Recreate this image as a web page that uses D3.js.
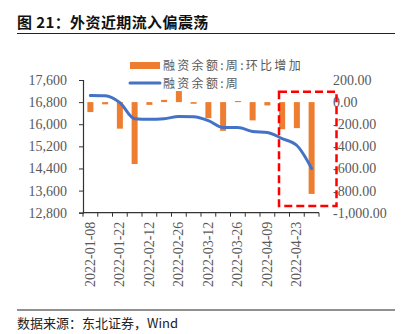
<!DOCTYPE html>
<html><head><meta charset="utf-8">
<script src="https://cdn.jsdelivr.net/npm/d3@7"></script>
<style>
html,body{margin:0;padding:0;background:#fff;}
svg{display:block;}
</style></head>
<body>
<svg id="c" width="408" height="334"></svg>
<script>
const dates = ["2022-01-08","2022-01-15","2022-01-22","2022-01-29","2022-02-12","2022-02-19","2022-02-26","2022-03-05","2022-03-12","2022-03-19","2022-03-26","2022-04-02","2022-04-09","2022-04-16","2022-04-23","2022-04-30"];
const changeWeekly = [-90,-20,-240,-560,-25,20,100,-15,-145,-260,10,-165,-30,-245,-235,-830];
const balanceWeekly = [17040,17030,16780,16200,16180,16200,16280,16270,16130,15880,15880,15740,15700,15480,15230,14400];
const shownLabels = ["2022-01-08","2022-01-22","2022-02-12","2022-02-26","2022-03-12","2022-03-26","2022-04-09","2022-04-23"];
const leftTicks = [12800,13600,14400,15200,16000,16800,17600];
const rightTicks = [-1000,-800,-600,-400,-200,0,200];
const legendNames = ["融资余额:周:环比增加","融资余额:周"];
const title = "图 21：外资近期流入偏震荡";
const source = "数据来源：东北证券，Wind";

const svg = d3.select("#c");
const serif = "'Liberation Serif','Times New Roman',serif";
const cjk = "'Noto Sans CJK SC','Noto Sans CJK JP',sans-serif";
const grey = "#595959";

const x = d3.scaleBand().domain(dates).range([83, 319]).paddingInner(0).paddingOuter(0);
const yL = d3.scaleLinear().domain([12800, 17600]).range([212.7, 80]);
const yR = d3.scaleLinear().domain([-1000, 200]).range([212.7, 80]);

// title
svg.append("text").attr("x", 17).attr("y", 28).text(title)
  .style("font-family", cjk).style("font-size", "15px").style("font-weight", "bold")
  .style("letter-spacing", "0.4px").attr("fill", "#111");
svg.append("line").attr("x1", 17).attr("x2", 395).attr("y1", 33.5).attr("y2", 33.5)
  .attr("stroke", "#222").attr("stroke-width", 1.2);
svg.append("line").attr("x1", 17).attr("x2", 395).attr("y1", 310).attr("y2", 310)
  .attr("stroke", "#222").attr("stroke-width", 1.2);
svg.append("text").attr("x", 17).attr("y", 328).text(source)
  .style("font-family", cjk).style("font-size", "13px").attr("fill", "#222");

// bars
const bw = 6;
svg.append("g").selectAll("rect").data(dates).join("rect")
  .attr("x", d => x(d) + x.bandwidth()/2 - bw/2)
  .attr("width", bw)
  .attr("y", (d,i) => Math.min(yR(0), yR(changeWeekly[i])))
  .attr("height", (d,i) => Math.abs(yR(changeWeekly[i]) - yR(0)))
  .attr("fill", "#ED7D31");

// line
const line = d3.line()
  .x((d,i) => x(dates[i]) + x.bandwidth()/2)
  .y(d => yL(d))
  .curve(d3.curveMonotoneX);
svg.append("path").datum(balanceWeekly).attr("d", line)
  .attr("fill", "none").attr("stroke", "#4472C4").attr("stroke-width", 3)
  .attr("stroke-linecap", "round").attr("stroke-linejoin", "round");

// left axis
const gL = svg.append("g").attr("transform", "translate(83,0)")
  .call(d3.axisLeft(yL).tickValues(leftTicks).tickFormat(d3.format(",")).tickSize(4).tickPadding(12));
gL.select(".domain").attr("stroke", "#333").attr("stroke-width", 1.2);
gL.selectAll(".tick line").attr("stroke", "#333");
gL.selectAll("text").style("font-family", serif).style("font-size", "14px").attr("fill", grey);

// x axis
const gX = svg.append("g").attr("transform", "translate(0,212.7)");
gX.append("line").attr("x1", 83).attr("x2", 319).attr("stroke", "#333").attr("stroke-width", 1.2);
const tickPos = dates.map(d => x(d)).concat([x.range()[1]]);
gX.selectAll("line.t").data(tickPos).join("line").attr("class","t")
  .attr("x1", d => d).attr("x2", d => d).attr("y1", 0).attr("y2", 4)
  .attr("stroke", "#333");
gX.selectAll("text").data(shownLabels).join("text")
  .attr("transform", d => `translate(${x(d) + x.bandwidth()/2 + 4.5},9) rotate(-90)`)
  .attr("text-anchor", "end")
  .text(d => d)
  .style("font-family", serif).style("font-size", "14px").attr("fill", grey);

// right axis
const gR = svg.append("g").attr("transform", "translate(333,0)")
  .call(d3.axisRight(yR).tickValues(rightTicks).tickFormat(d => d3.format(",.2f")(d).replace("−","-")).tickSize(0).tickPadding(0));
gR.select(".domain").remove();
gR.selectAll("text").style("font-family", serif).style("font-size", "14px").attr("fill", grey);

// legend
const lg = svg.append("g");
lg.append("rect").attr("x", 130).attr("y", 62).attr("width", 30).attr("height", 7).attr("fill", "#ED7D31");
lg.append("line").attr("x1", 130).attr("x2", 160).attr("y1", 83).attr("y2", 83)
  .attr("stroke", "#4472C4").attr("stroke-width", 3).attr("stroke-linecap", "round");
lg.selectAll("text").data(legendNames).join("text")
  .attr("x", 163).attr("y", (d,i) => 65.5 + i*18).attr("dy", "0.35em").text(d => d)
  .style("font-family", cjk).style("font-size", "12px").style("letter-spacing", "2.3px").attr("fill", grey);

// highlight box
svg.append("rect").attr("x", 279).attr("y", 91.7).attr("width", 57.5).attr("height", 114.3)
  .attr("fill", "none").attr("stroke", "#FF0000").attr("stroke-width", 2.5)
  .attr("stroke-dasharray", "8,4");
</script>
</body></html>
